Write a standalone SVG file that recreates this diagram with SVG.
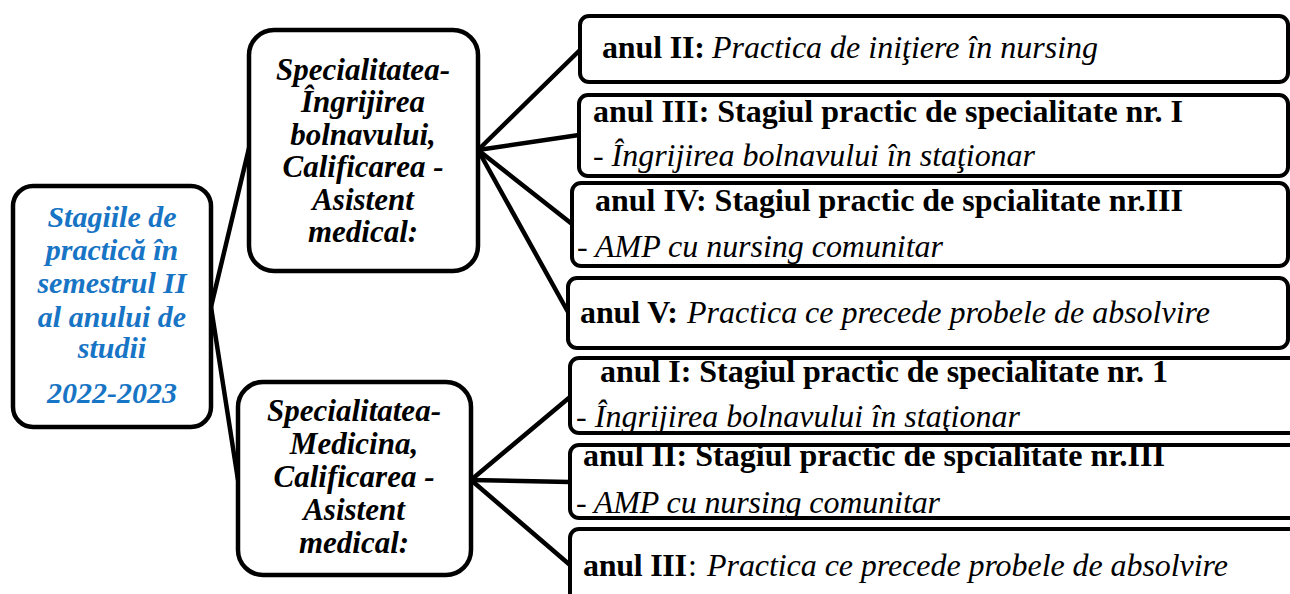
<svg xmlns="http://www.w3.org/2000/svg" width="1290" height="594" viewBox="0 0 1290 594">
<style>
.bg{fill:#fff;stroke:none}
.fr{fill:none;stroke:#000;stroke-width:4.5}
.fr4{fill:none;stroke:#000;stroke-width:4}
.con line{stroke:#000;stroke-width:4.5;stroke-linecap:round}
text{font-family:'Liberation Serif','Tinos','DejaVu Serif',serif}
.root{font-weight:bold;font-style:italic;font-size:30px;fill:#1874C4;text-anchor:middle}
.spec{font-weight:bold;font-style:italic;font-size:31px;fill:#000;text-anchor:middle}
.b{font-weight:bold;font-size:32px;fill:#000}
.i{font-style:italic;font-size:32px;fill:#000}
.n{font-size:32px;fill:#000}
</style>
<rect width="1290" height="594" fill="#fff"/>
<g id="connectors" class="con">
<line x1="211" y1="307" x2="249" y2="148"/>
<line x1="211" y1="307" x2="238" y2="480"/>
<line x1="478" y1="150" x2="580" y2="50"/>
<line x1="478" y1="150" x2="579" y2="135"/>
<line x1="478" y1="150" x2="572" y2="224"/>
<line x1="478" y1="150" x2="568" y2="312"/>
<line x1="471" y1="480" x2="570" y2="397"/>
<line x1="471" y1="480" x2="570" y2="482"/>
<line x1="471" y1="480" x2="570" y2="565"/>
</g>
<g id="root">
<rect class="bg" x="13" y="186" width="198" height="241" rx="20"/>
<rect class="fr" x="13" y="186" width="198" height="241" rx="20"/>
<text class="root" x="112" y="227">Stagiile de</text>
<text class="root" x="112" y="260">practică în</text>
<text class="root" x="112" y="293">semestrul II</text>
<text class="root" x="112" y="327">al anului de</text>
<text class="root" x="112" y="358">studii</text>
<text class="root" x="112" y="403">2022-2023</text>
</g>
<g id="spec1">
<rect class="bg" x="249" y="30" width="229" height="241" rx="25"/>
<rect class="fr" x="249" y="30" width="229" height="241" rx="25"/>
<text class="spec" x="363" y="80">Specialitatea-</text>
<text class="spec" x="363" y="112">Îngrijirea</text>
<text class="spec" x="363" y="145">bolnavului,</text>
<text class="spec" x="363" y="177">Calificarea -</text>
<text class="spec" x="363" y="210">Asistent</text>
<text class="spec" x="363" y="242">medical:</text>
</g>
<g id="spec2">
<rect class="bg" x="238" y="382" width="233" height="193" rx="25"/>
<rect class="fr" x="238" y="382" width="233" height="193" rx="25"/>
<text class="spec" x="354" y="421">Specialitatea-</text>
<text class="spec" x="354" y="454">Medicina,</text>
<text class="spec" x="354" y="487">Calificarea -</text>
<text class="spec" x="354" y="520">Asistent</text>
<text class="spec" x="354" y="553">medical:</text>
</g>
<g id="boxA">
<rect class="bg" x="580" y="16" width="708" height="66" rx="9"/>
<text class="b" x="602" y="58" textLength="103" lengthAdjust="spacing">anul II:</text>
<text class="i" x="712" y="58" textLength="386" lengthAdjust="spacing">Practica de iniţiere în nursing</text>
<rect class="fr4" x="580" y="16" width="708" height="66" rx="9"/>
</g>
<g id="boxB">
<rect class="bg" x="579" y="95" width="709" height="81" rx="9"/>
<text class="b" x="593" y="122" textLength="590" lengthAdjust="spacing">anul III: Stagiul practic de specialitate nr. I</text>
<text class="i" x="593" y="166" textLength="442" lengthAdjust="spacing">- Îngrijirea bolnavului în staţionar</text>
<rect class="fr4" x="579" y="95" width="709" height="81" rx="9"/>
</g>
<g id="boxC">
<rect class="bg" x="572" y="183" width="716" height="83" rx="9"/>
<text class="b" x="595" y="211" textLength="588" lengthAdjust="spacing">anul IV: Stagiul practic de spcialitate nr.III</text>
<text class="i" x="577" y="257" textLength="366" lengthAdjust="spacing">- AMP cu nursing comunitar</text>
<rect class="fr4" x="572" y="183" width="716" height="83" rx="9"/>
</g>
<g id="boxD">
<rect class="bg" x="568" y="278" width="720" height="70" rx="9"/>
<text class="b" x="580" y="323" textLength="98" lengthAdjust="spacing">anul V:</text>
<text class="i" x="687" y="323" textLength="523" lengthAdjust="spacing">Practica ce precede probele de absolvire</text>
<rect class="fr4" x="568" y="278" width="720" height="70" rx="9"/>
</g>
<g id="boxE">
<rect class="bg" x="570" y="358" width="730" height="75" rx="9"/>
<text class="b" x="600" y="382" textLength="568" lengthAdjust="spacing">anul I: Stagiul practic de specialitate nr. 1</text>
<text class="i" x="576" y="427" textLength="444" lengthAdjust="spacing">- Îngrijirea bolnavului în staţionar</text>
<rect class="fr4" x="570" y="358" width="730" height="75" rx="9"/>
</g>
<g id="boxF">
<rect class="bg" x="570" y="445" width="730" height="73" rx="9"/>
<text class="b" x="583" y="466" textLength="582" lengthAdjust="spacing">anul II: Stagiul practic de spcialitate nr.III</text>
<text class="i" x="576" y="513" textLength="364" lengthAdjust="spacing">- AMP cu nursing comunitar</text>
<rect class="fr4" x="570" y="445" width="730" height="73" rx="9"/>
</g>
<g id="boxG">
<rect class="bg" x="570" y="529" width="730" height="80" rx="9"/>
<text class="b" x="583" y="576" textLength="104" lengthAdjust="spacing">anul III</text>
<text class="n" x="688" y="576">:</text>
<text class="i" x="707" y="576" textLength="521" lengthAdjust="spacing">Practica ce precede probele de absolvire</text>
<rect class="fr4" x="570" y="529" width="730" height="80" rx="9"/>
</g>
</svg>
